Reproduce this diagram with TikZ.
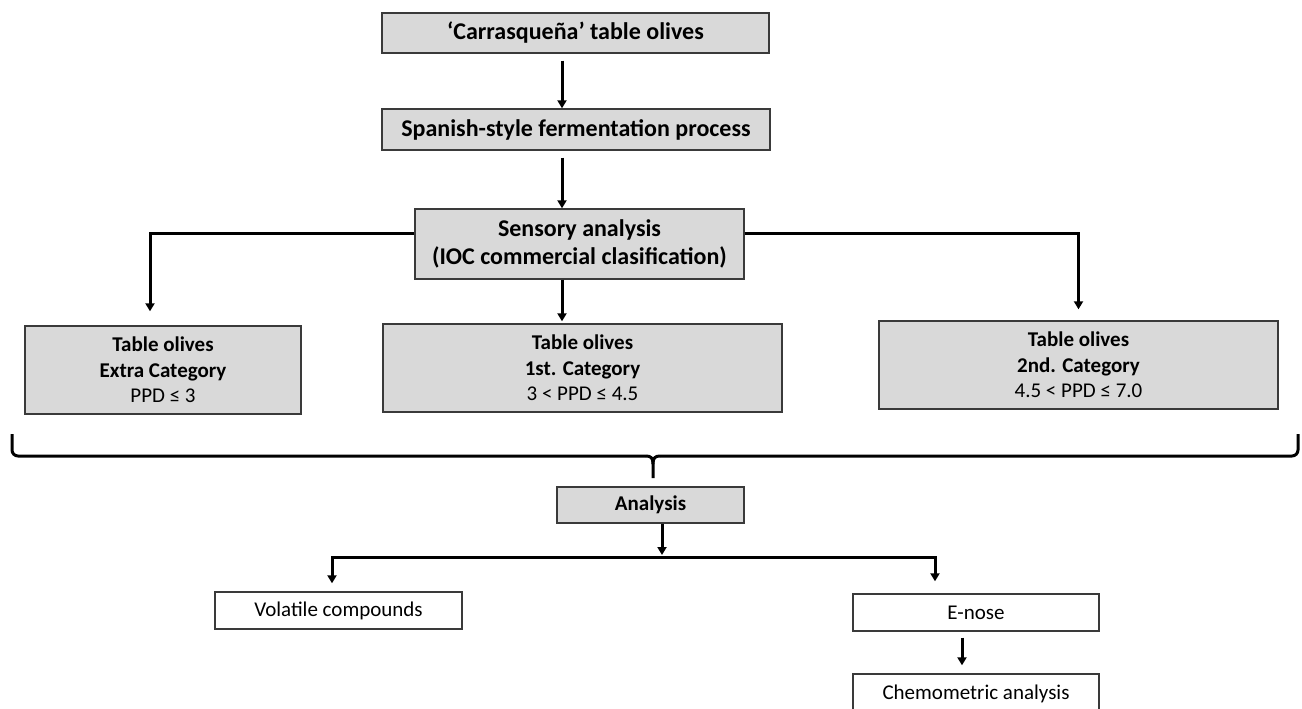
\documentclass[tikz,border=0pt]{standalone}
\usepackage{fontspec}
\setmainfont{Carlito}
\usetikzlibrary{arrows.meta}
\definecolor{boxfill}{HTML}{D9D9D9}
\definecolor{boxline}{HTML}{3A3A3A}
\tikzset{
  graybox/.style={draw=boxline, line width=1.4pt, fill=boxfill, inner sep=0pt, align=center},
  whitebox/.style={draw=boxline, line width=1.4pt, fill=white, inner sep=0pt, align=center},
  arr/.style={line width=3pt, -{Triangle[width=9pt,length=8pt]}},
  plain/.style={line width=3pt},
  bigtxt/.style={font=\fontsize{24}{28}\selectfont\bfseries},
  cattxt/.style={font=\fontsize{21}{25.5}\selectfont},
  smalltxt/.style={font=\fontsize{21}{24}\selectfont}
}
\begin{document}
\begin{tikzpicture}[x=1pt,y=-1pt]
\useasboundingbox (0,0) rectangle (1302,709);
\clip (0,0) rectangle (1302,709);

\node[graybox, bigtxt, minimum width=387pt, minimum height=40pt] (c1) at (575.5,33) {‘Carrasqueña’ table olives};
\node[graybox, bigtxt, minimum width=388pt, minimum height=41pt] (c2) at (576,129.5) {Spanish-style fermentation process};
\node[graybox, bigtxt, minimum width=329pt, minimum height=70pt] (sens) at (579.5,244) {Sensory analysis\\(IOC commercial clasification)};

\node[graybox, cattxt, minimum width=276pt, minimum height=88pt] (extra) at (163,370) {\textbf{Table olives}\\\textbf{Extra Category}\\PPD ≤ 3};
\node[graybox, cattxt, minimum width=399pt, minimum height=88pt] (first) at (582.5,368) {\textbf{Table olives}\\\textbf{1st. Category}\\3 < PPD ≤ 4.5};
\node[graybox, cattxt, minimum width=399pt, minimum height=88pt] (second) at (1078.5,365) {\textbf{Table olives}\\\textbf{2nd. Category}\\4.5 < PPD ≤ 7.0};

\node[graybox, font=\fontsize{21}{24}\selectfont\bfseries, minimum width=187pt, minimum height=36pt] (analysis) at (650.5,505) {Analysis};
\node[whitebox, smalltxt, minimum width=247pt, minimum height=37pt] (vol) at (338.5,610.5) {Volatile compounds};
\node[whitebox, smalltxt, minimum width=246pt, minimum height=37pt] (enose) at (976,612.5) {E-nose};
\node[whitebox, smalltxt, minimum width=246pt, minimum height=40pt] (chem) at (976,694) {Chemometric analysis};

% top chain
\draw[arr] ([xshift=-13.5pt,yshift=-7pt]c1.south) -- ([xshift=-14pt]c2.north);
\draw[arr] ([xshift=-14pt,yshift=-7pt]c2.south) -- ([xshift=-17.5pt]sens.north);

% branches from sensory analysis
\draw[arr] ([yshift=11pt]sens.west) -| ([xshift=-13pt,yshift=14pt]extra.north);
\draw[arr] ([yshift=11pt]sens.east) -| ([yshift=11pt]second.north);
\draw[arr] ([xshift=-17.5pt]sens.south) -- ([xshift=-20.5pt,yshift=2pt]first.north);

% brace
\coordinate (bl) at (12,434);
\coordinate (br) at (1298,434);
\coordinate (btip) at (653,478);
\draw[plain, rounded corners=6pt] (bl) -- (12,456) -- (646,456);
\draw[plain, rounded corners=6pt] (br) -- (1298,456) -- (660,456);
\draw[plain, line join=round] (646,456) .. controls (651,456) and (653,458) .. (653,464) -- (btip);
\draw[plain, line join=round] (660,456) .. controls (655,456) and (653,458) .. (653,464);

% analysis split
\coordinate (split) at (662,557);
\draw[arr] ([xshift=11.5pt]analysis.south) -- ([yshift=2pt]split);
\draw[arr] (split) -| ([xshift=-6.5pt,yshift=8pt]vol.north);
\draw[arr] (split) -| ([xshift=-41pt,yshift=12pt]enose.north);

% e-nose to chemometric
\draw[arr] ([xshift=-14pt,yshift=-6pt]enose.south) -- ([xshift=-14pt,yshift=8pt]chem.north);
\end{tikzpicture}
\end{document}
